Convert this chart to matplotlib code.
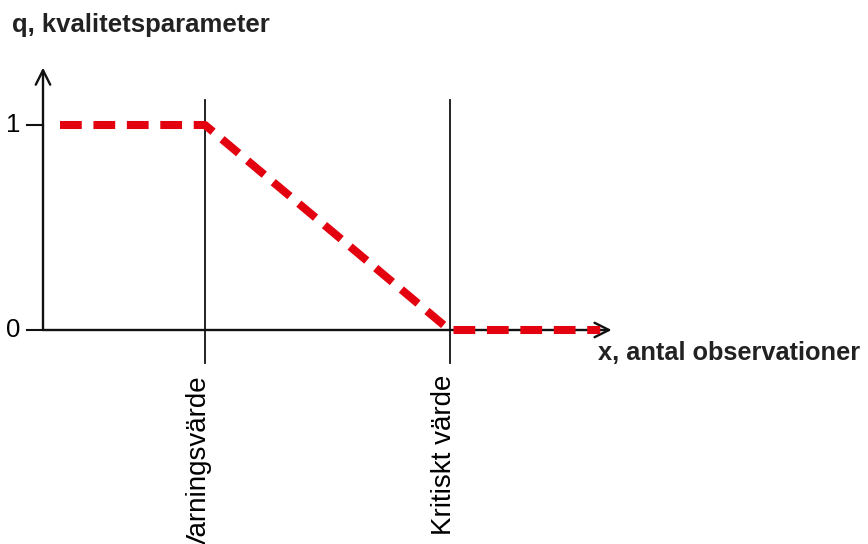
import matplotlib.pyplot as plt
import matplotlib.transforms as mtransforms

plt.rcParams['font.family'] = ['Liberation Sans', 'DejaVu Sans']

# x in units of "Varningsvärde" = 1
warn_x = 1.0
crit_x = 2.51
q_x = [0.105, warn_x, crit_x, 3.44]
q_y = [1, 1, 0, 0]
ytick_vals = [0, 1]
ytick_labels = ['0', '1']
marker_labels = ['Varningsvärde', 'Kritiskt värde']


def make_plot():
    fig = plt.figure(figsize=(8.68, 5.44), dpi=100)
    ax = fig.add_axes([0, 0, 1, 1])
    ax.set_xlim(-43 / 162, 825 / 162)
    ax.set_ylim(-214 / 205, 330 / 205)
    ax.axis('off')

    # axes with open arrowheads
    ax.annotate('', xy=(3.51, 0), xytext=(0, 0),
                arrowprops=dict(arrowstyle='->', lw=1.7, color='#111111',
                                mutation_scale=26, shrinkA=0, shrinkB=0))
    ax.annotate('', xy=(0, 1.28), xytext=(0, 0),
                arrowprops=dict(arrowstyle='->', lw=1.7, color='#111111',
                                mutation_scale=26, shrinkA=0, shrinkB=0))

    # y ticks
    for v, lab in zip(ytick_vals, ytick_labels):
        ax.plot([-0.1, 0], [v, v], color='#111111', lw=1.5)
        ax.text(-0.14, v, lab, ha='right', va='center', fontsize=18.5)

    # vertical markers
    shift = mtransforms.ScaledTranslation(-6 / 100, 0, fig.dpi_scale_trans)
    for xv, lab in zip([warn_x, crit_x], marker_labels):
        ax.plot([xv, xv], [-0.16, 1.12], color='#111111', lw=1.3)
        ax.text(xv, -0.22, lab, rotation=90, ha='center', va='top', fontsize=20,
                transform=ax.transData + shift)

    ax.plot(q_x, q_y, color='#e3000f', lw=5.8, dashes=(2.7, 1.45),
            solid_capstyle='butt', dash_capstyle='butt', zorder=3)

    ax.text(-0.19, 1.49, 'q, kvalitetsparameter', ha='left', va='center',
            fontsize=18.5, fontweight='bold', color='#222222')
    ax.text(3.425, -0.112, 'x, antal observationer', ha='left', va='center',
            fontsize=18.3, fontweight='bold', color='#222222')

    fig.savefig('out.png', dpi=100)


if __name__ == '__main__':
    make_plot()
